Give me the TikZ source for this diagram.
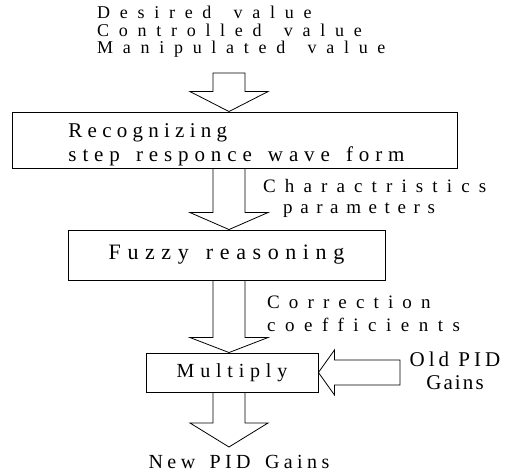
\documentclass[tikz,border=0pt]{standalone}
\usepackage{fontspec}
\setmainfont{Liberation Serif}
\usetikzlibrary{calc}
\newcommand\trk[2]{{\addfontfeature{LetterSpace=#1}#2}}
\newcommand\wsp{\ \hspace{8pt}}
\newcommand\wsq{\ \hspace{5pt}}
\newcommand\varrow[3]{%
  \draw[barrow] let \p1=(#1),\p2=(#2) in
    (\x1-16pt,\y1) -- (\x1-16pt,\y2+#3) -- (\x1-39pt,\y2+#3) -- (\x1,\y2)
    -- (\x1+39pt,\y2+#3) -- (\x1+16pt,\y2+#3) -- (\x1+16pt,\y1) -- cycle;}
\newcommand\harrow[3]{%
  \draw[barrow] let \p1=(#1),\p2=(#2) in
    (\x1,\y2+12.5pt) -- (\x2+#3,\y2+12.5pt) -- (\x2+#3,\y2+22.5pt) -- (\x2,\y2)
    -- (\x2+#3,\y2-22.5pt) -- (\x2+#3,\y2-12.5pt) -- (\x1,\y2-12.5pt) -- cycle;}
\begin{document}
\begin{tikzpicture}[x=1pt,y=-1pt,
  box/.style={draw,line width=0.9pt,inner sep=0pt,align=left},
  barrow/.style={draw,line width=0.8pt,fill=white,line join=miter},
  lbl/.style={inner sep=0pt,align=left}]
\useasboundingbox (0,0) rectangle (515,473);
% input text
\node[lbl,anchor=west,font=\fontsize{18}{17.5}\selectfont] (inp) at (97,32)
  {\trk{54}{Desired\wsp value}\\\trk{54}{Controlled\wsp value}\\\trk{54}{Manipulated\wsp value}};
% boxes
\node[box,minimum width=445pt,minimum height=56pt] (rec) at (234.5,140) {};
\node[lbl,font=\fontsize{21}{24}\selectfont] (rectxt) at ($(rec.center)+(2,5)$)
  {\trk{25}{Recognizing}\\\trk{28}{step\wsq responce\wsq wave\wsq form}};
\node[box,minimum width=317pt,minimum height=50pt,font=\fontsize{22}{24}\selectfont] (fuz) at (226.5,255)
  {\trk{30}{Fuzzy\wsq reasoning}};
\node[box,minimum width=172pt,minimum height=39pt,font=\fontsize{20}{24}\selectfont] (mul) at (232,372.5)
  {\trk{29}{Multiply}};
% labels
\node[lbl,anchor=west,font=\fontsize{19}{24}\selectfont] (ch1) at (263,186) {\trk{48}{Charactristics}};
\node[lbl,anchor=west,font=\fontsize{19}{24}\selectfont] (ch2) at (283,210) {\trk{40}{parameters}};
\node[lbl,anchor=west,font=\fontsize{19}{23}\selectfont] (cor) at (267,314)
  {\trk{48}{Correction}\\\trk{50}{coefficients}};
\node[lbl,align=center,font=\fontsize{21}{23}\selectfont] (old) at (455,371)
  {\trk{19}{Old PID}\\\trk{10}{Gains}};
\node[lbl,font=\fontsize{20}{24}\selectfont] (new) at (239,462) {\trk{22}{New\wsq PID\wsq Gains}};
% arrows
\coordinate (ax) at (229,0);
\coordinate (top) at (229,73);
\coordinate (out) at (229,447);
\coordinate (oldend) at (400,372);
\varrow{top}{rec.north -| ax}{20pt}
\varrow{rec.south -| ax}{fuz.north -| ax}{17pt}
\varrow{fuz.south -| ax}{mul.north -| ax}{15pt}
\varrow{mul.south -| ax}{out}{24pt}
\harrow{oldend}{mul.east}{16pt}
\end{tikzpicture}
\end{document}
